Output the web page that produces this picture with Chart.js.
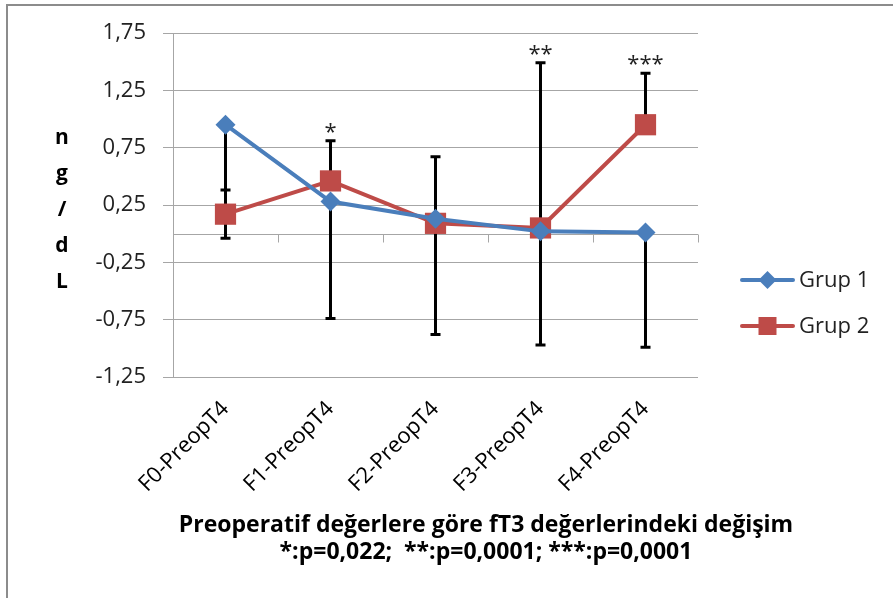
<!DOCTYPE html>
<html>
<head>
<meta charset="utf-8">
<script src="https://cdn.jsdelivr.net/npm/chart.js@4.4.0/dist/chart.umd.min.js"></script>
<style>
  html, body { margin: 0; padding: 0; background: #fff; }
  #wrap { position: relative; width: 893px; height: 598px; }
  #frame { position: absolute; left: 6px; top: 4px; right: 0; bottom: 0;
           border-left: 2px solid #8c8c8c; border-top: 2px solid #8c8c8c; }
  #chart { position: absolute; left: 0; top: 0; }
</style>
</head>
<body>
<div id="wrap">
  <div id="frame"></div>
  <canvas id="chart" width="893" height="598"></canvas>
</div>
<script>
// data
const categories = ['F0-PreopT4', 'F1-PreopT4', 'F2-PreopT4', 'F3-PreopT4', 'F4-PreopT4'];
const grup1 = [0.95, 0.28, 0.13, 0.02, 0.01];
const grup2 = [0.17, 0.46, 0.09, 0.05, 0.95];
const grup1Minus = [0.99, 1.02, 1.01, 0.99, 1.00];   // error bars going down from Grup 1
const grup2Plus = [0.21, 0.35, 0.58, 1.44, 0.45];    // error bars going up from Grup 2
const stars = ['', '*', '', '**', '***'];
const yTicks = [-1.25, -0.75, -0.25, 0.25, 0.75, 1.25, 1.75];
const yTitle = ['n', 'g', '/', 'd', 'L'];
const caption = ['Preoperatif değerlere göre fT3 değerlerindeki değişim',
                 '*:p=0,022;  **:p=0,0001; ***:p=0,0001'];

const BLUE = '#4a7ebb';
const RED = '#be4b48';
const GRID = '#a6a6a6';
const FONT = 'Open Sans';

function drawMarker(ctx, style, x, y, half) {
  ctx.beginPath();
  if (style === 'rectRot') {
    ctx.moveTo(x, y - half); ctx.lineTo(x + half, y);
    ctx.lineTo(x, y + half); ctx.lineTo(x - half, y);
    ctx.closePath();
  } else {
    ctx.rect(x - half, y - half, half * 2, half * 2);
  }
  ctx.fill();
}

const zeroAxis = {
  id: 'zeroAxis',
  beforeDatasetsDraw(chart) {
    const {ctx, scales: {x, y}} = chart;
    const y0 = Math.round(y.getPixelForValue(0)) + 0.5;
    const step = x.width / categories.length;
    ctx.save();
    ctx.strokeStyle = GRID; ctx.lineWidth = 1;
    ctx.beginPath();
    ctx.moveTo(x.left, y0); ctx.lineTo(x.right, y0);
    for (let i = 1; i <= categories.length; i++) {
      const tx = Math.round(x.left + i * step) + 0.5;
      ctx.moveTo(tx, y0); ctx.lineTo(tx, y0 + 8);
    }
    ctx.stroke();
    ctx.restore();
  }
};

const errorBars = {
  id: 'errorBars',
  beforeDatasetsDraw(chart) {
    const {ctx, scales: {x, y}} = chart;
    ctx.save();
    ctx.strokeStyle = '#000'; ctx.lineWidth = 3;
    const bar = (i, from, to) => {
      const px = x.getPixelForValue(i);
      const y1 = y.getPixelForValue(from), y2 = y.getPixelForValue(to);
      ctx.beginPath();
      ctx.moveTo(px, y1); ctx.lineTo(px, y2);
      ctx.moveTo(px - 5, y2); ctx.lineTo(px + 5, y2);
      ctx.stroke();
    };
    categories.forEach((c, i) => {
      bar(i, grup1[i], grup1[i] - grup1Minus[i]);
      bar(i, grup2[i], grup2[i] + grup2Plus[i]);
    });
    ctx.restore();
  },
  afterDatasetsDraw(chart) {
    const {ctx, scales: {x, y}} = chart;
    ctx.save();
    ctx.fillStyle = '#222';
    ctx.font = '22px "' + FONT + '"';
    ctx.textAlign = 'center';
    ctx.textBaseline = 'alphabetic';
    categories.forEach((c, i) => {
      if (!stars[i]) return;
      const top = y.getPixelForValue(grup2[i] + grup2Plus[i]);
      ctx.fillText(stars[i], x.getPixelForValue(i), top - 2);
    });
    ctx.restore();
  }
};

// texts around the plot: stacked unit letters, legend, two-line caption
const extras = {
  id: 'extras',
  afterDraw(chart) {
    const {ctx, chartArea} = chart;
    const mid = (chartArea.top + chartArea.bottom) / 2;
    ctx.save();
    ctx.fillStyle = '#000';
    ctx.font = 'bold 21px "' + FONT + '"';
    ctx.textAlign = 'center';
    ctx.textBaseline = 'alphabetic';
    yTitle.forEach((t, i) => {
      ctx.fillText(t, 62, mid + 11 + (i - 2) * 36.2);
    });

    // legend
    const lx = chartArea.right + 42;
    chart.data.datasets.forEach((ds, i) => {
      const ly = 280 + i * 46;
      ctx.strokeStyle = ds.borderColor; ctx.fillStyle = ds.borderColor;
      ctx.lineWidth = 4; ctx.lineCap = 'round';
      ctx.beginPath(); ctx.moveTo(lx + 2, ly); ctx.lineTo(lx + 53, ly); ctx.stroke();
      drawMarker(ctx, ds.pointStyle, lx + 27.5, ly, 9);
      ctx.fillStyle = '#222';
      ctx.font = '22px "' + FONT + '"';
      ctx.textAlign = 'left';
      ctx.textBaseline = 'middle';
      ctx.fillText(ds.label, lx + 59, ly + 1);
    });

    // caption
    ctx.fillStyle = '#000';
    ctx.font = 'bold 23px "' + FONT + '"';
    ctx.textAlign = 'center';
    ctx.textBaseline = 'middle';
    caption.forEach((t, i) => ctx.fillText(t, 486, 525 + i * 27));
    ctx.restore();
  }
};

new Chart(document.getElementById('chart'), {
  type: 'line',
  data: {
    labels: categories,
    datasets: [{
      label: 'Grup 1',
      data: grup1,
      borderColor: BLUE,
      backgroundColor: BLUE,
      borderWidth: 4,
      pointStyle: 'rectRot',
      pointRadius: 10,
      pointBorderWidth: 0,
      tension: 0
    }, {
      label: 'Grup 2',
      data: grup2,
      borderColor: RED,
      backgroundColor: RED,
      borderWidth: 4,
      pointStyle: 'rect',
      pointRadius: 15,
      pointBorderWidth: 0,
      tension: 0
    }]
  },
  options: {
    responsive: false,
    animation: false,
    layout: { padding: { top: 33, left: 93, right: 195, bottom: 102 } },
    scales: {
      x: {
        offset: true,
        grid: { display: false },
        border: { display: false },
        afterFit: s => { s.height = 119; },
        ticks: {
          minRotation: 45, maxRotation: 45, padding: 11,
          color: '#000', font: { family: FONT, size: 22 }
        }
      },
      y: {
        min: -1.25, max: 1.75,
        afterBuildTicks: s => { s.ticks = yTicks.map(v => ({ value: v })); },
        afterFit: s => { s.width = 80; },
        grid: { color: GRID, tickLength: 10 },
        border: { color: GRID },
        ticks: {
          padding: 17, color: '#222', font: { family: FONT, size: 22 },
          callback: v => v.toFixed(2).replace('.', ',')
        }
      }
    },
    plugins: {
      legend: { display: false },
      title: { display: false },
      tooltip: { enabled: false }
    }
  },
  plugins: [zeroAxis, errorBars, extras]
});
</script>
</body>
</html>
